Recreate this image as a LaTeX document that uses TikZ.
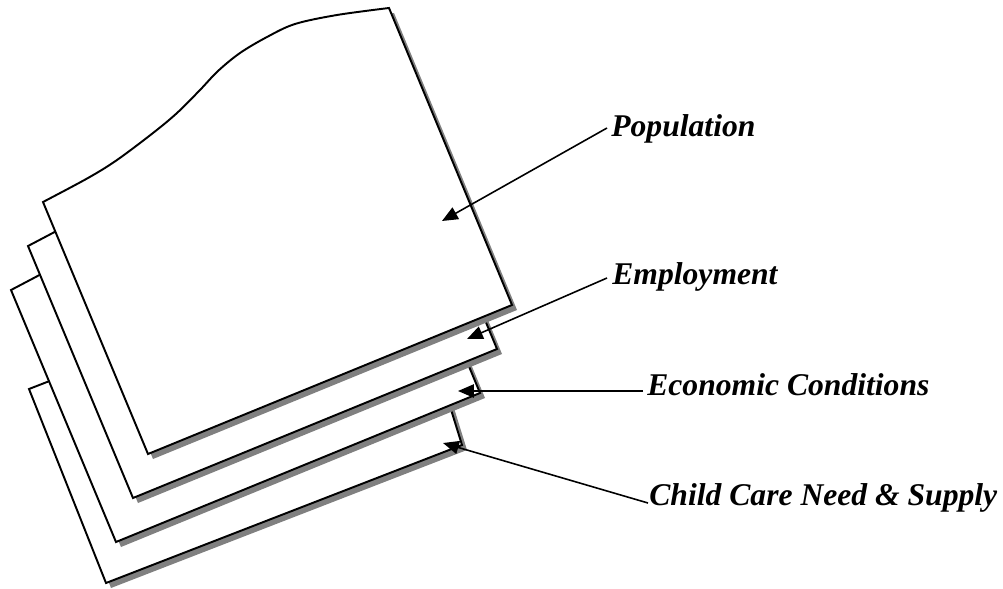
\documentclass[tikz,border=0pt]{standalone}
\usepackage{fontspec}
\setmainfont{Liberation Serif}
\usetikzlibrary{arrows.meta}

\newcommand{\sheetoutline}{plot[smooth, tension=0.55] coordinates {(43,202)
    (88,178) (117,160) (153,133) (177,113) (200,90) (218,71) (240,53)
    (267,37) (295,24) (337,15) (389,8)} -- (512,305) -- (148,454) -- cycle}

\begin{document}
\begin{tikzpicture}[x=0.02cm, y=-0.02cm,
        sheet/.style={draw=black, fill=white, line width=1.1pt},
        shade/.style={fill=gray, shift={(5,5)}},
        pointer/.style={-{Triangle[length=9pt, width=7.5pt]}, line width=0.9pt},
        layertext/.style={anchor=base west, inner sep=0pt,
            font=\fontsize{18}{22}\selectfont\bfseries\itshape}]
        \useasboundingbox (0,0) rectangle (1003,588);
        \fill[shade] (29,389) -- (400,245) -- (462,445) -- (106,583) -- cycle;
        \draw[sheet] (29,389) -- (400,245) -- (462,445) -- (106,583) -- cycle;
        \foreach \dx/\dy in {-32/88, -15/44, 0/0} {
            \begin{scope}[shift={(\dx,\dy)}]
                \fill[shade] \sheetoutline;
                \draw[sheet] \sheetoutline;
            \end{scope}
        }
        \node[layertext] (pop) at (611,136) {Population};
        \node[layertext] (emp) at (612,284) {Employment};
        \node[layertext] (econ) at (647,395) {Economic Conditions};
        \node[layertext] (care) at (649,505) {Child Care Need \& Supply};
        \coordinate (popTip) at (442,221);
        \coordinate (empTip) at (467,339);
        \coordinate (econTip) at (458,391);
        \coordinate (careTip) at (443,443);
        \draw[pointer] ([shift={(-4,-8)}]pop.base west) -- (popTip);
        \draw[pointer] ([shift={(-5,-6)}]emp.base west) -- (empTip);
        \draw[pointer] ([shift={(-4,-4)}]econ.base west) -- (econTip);
        \draw[pointer] ([shift={(-1,-2)}]care.base west) -- (careTip);
\end{tikzpicture}
\end{document}
